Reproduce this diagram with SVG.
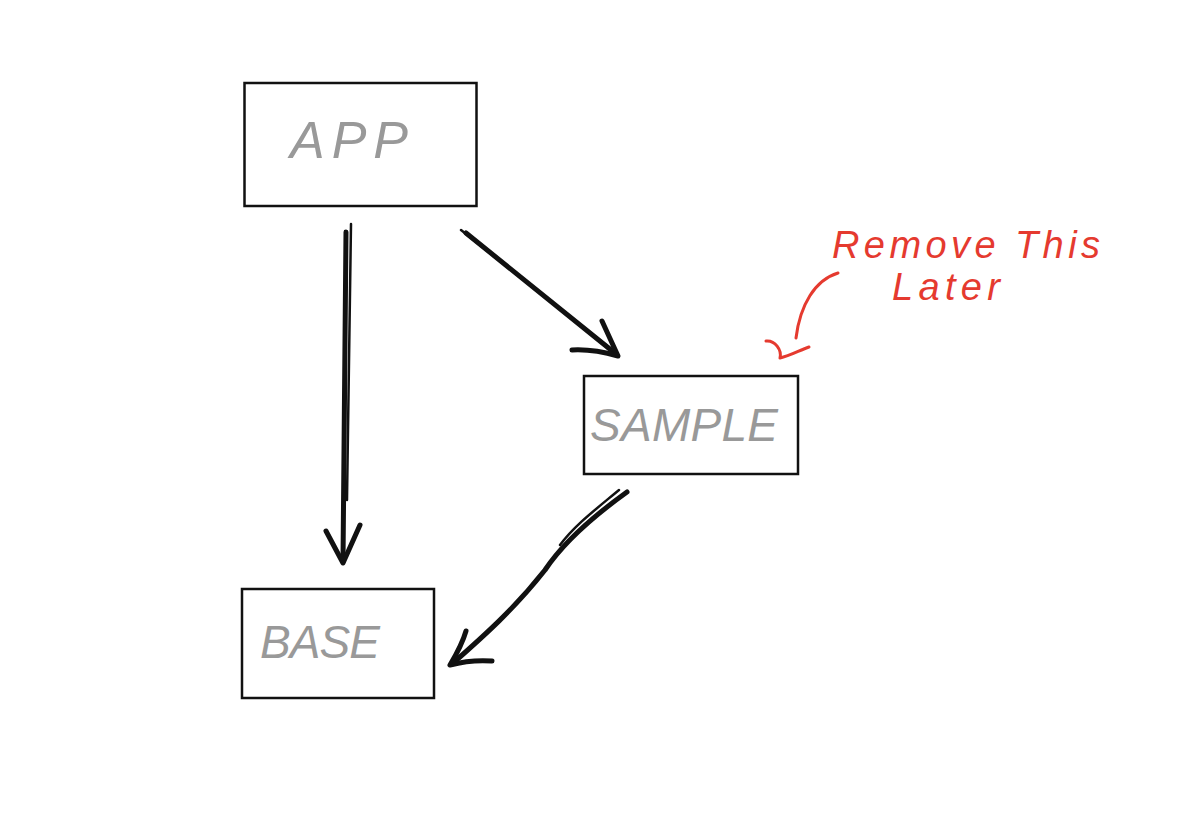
<svg xmlns="http://www.w3.org/2000/svg" width="1196" height="830" viewBox="0 0 1196 830">
<style>
.box{fill:#fff;stroke:#111;stroke-width:2.5}
.lbl{font-family:"Liberation Sans",Arial,sans-serif;font-style:italic;fill:#999;}
.ink{fill:none;stroke:#111;stroke-width:5;stroke-linecap:round;stroke-linejoin:round}
.ink2{fill:none;stroke:#111;stroke-width:2.5;stroke-linecap:round}
.red{fill:none;stroke:#e53a2f;stroke-width:3;stroke-linecap:round;stroke-linejoin:round}
.note{font-family:"Liberation Sans",Arial,sans-serif;fill:#e53a2f;font-style:italic}
</style>
<rect width="1196" height="830" fill="#fff"/>
<g id="app">
<rect class="box" x="244.5" y="83" width="232" height="123"/>
<text class="lbl" x="290" y="158" font-size="52" textLength="118" lengthAdjust="spacing">APP</text>
</g>
<g id="sample">
<rect class="box" x="584" y="376" width="214" height="98"/>
<text class="lbl" x="590" y="441" font-size="46" textLength="188" lengthAdjust="spacing">SAMPLE</text>
</g>
<g id="base">
<rect class="box" x="242" y="589" width="192" height="109"/>
<text class="lbl" x="260" y="658" font-size="46" textLength="120" lengthAdjust="spacing">BASE</text>
</g>
<g id="connectors">
<path class="ink" d="M346 232 C346 330 345 440 343 562"/>
<path class="ink2" d="M351 224 C350 300 349 400 347 500"/>
<path class="ink" d="M326 531 L343 563 L360 525"/>
<path class="ink" d="M466 233 L616 354"/>
<path class="ink2" d="M461 230 L612 350"/>
<path class="ink" d="M572 350 C590 349 604 352 618 356 L602 321"/>
<path class="ink" d="M627 492 C595 515 565 540 545 570 C515 608 485 635 452 664"/>
<path class="ink2" d="M619 490 C595 510 575 525 560 545"/>
<path class="ink" d="M466 631 C462 645 456 655 450 665 C465 661 478 660 492 661"/>
</g>
<g id="note">
<text class="note" x="832" y="258" font-size="38" textLength="268" lengthAdjust="spacing">Remove This</text>
<text class="note" x="892" y="300" font-size="38" textLength="108" lengthAdjust="spacing">Later</text>
<path class="red" d="M838 273 C815 280 800 305 796 338"/>
<path class="red" d="M766 341 C775 340 782 350 780 358 C790 356 800 350 809 347"/>
</g>
</svg>
